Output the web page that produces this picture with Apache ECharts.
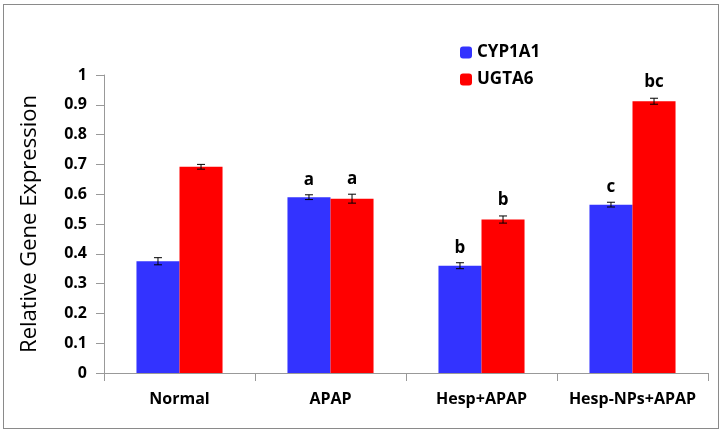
<!DOCTYPE html>
<html><head><meta charset="utf-8">
<script src="https://cdn.jsdelivr.net/npm/echarts@6/dist/echarts.min.js"></script>
<style>html,body{margin:0;padding:0;background:#fff}#frame{position:absolute;left:3px;top:4px;width:716px;height:425px;border:1.5px solid #8a8a8a;box-sizing:border-box}#c{width:724px;height:434px}</style>
</head><body>
<div id="c"></div><div id="frame"></div>
<script>
const categories = ['Normal', 'APAP', 'Hesp+APAP', 'Hesp-NPs+APAP'];
const cyp1a1 = [0.375, 0.59, 0.36, 0.565];
const ugta6 = [0.692, 0.585, 0.515, 0.912];
const cypErr = [0.012, 0.008, 0.010, 0.008];
const ugtErr = [0.008, 0.015, 0.012, 0.010];
const cypLetters = ['', 'a', 'b', 'c'];
const ugtLetters = ['', 'a', 'b', 'bc'];
const yTicks = [0, 0.1, 0.2, 0.3, 0.4, 0.5, 0.6, 0.7, 0.8, 0.9, 1];

const gapRatio = 0.43;
function errSeries(vals, errs, side) {
  return {
    type: 'custom', z: 5,
    data: vals.map((v, i) => [i, v, errs[i]]),
    renderItem: function (params, api) {
      const band = api.size([1, 0])[0];
      const bw = band * (1 - gapRatio) / 2;
      const c = api.coord([api.value(0), api.value(1)]);
      const x = c[0] + side * bw / 2;
      const hi = api.coord([api.value(0), api.value(1) + api.value(2)])[1];
      const lo = api.coord([api.value(0), api.value(1) - api.value(2)])[1];
      const cap = 4;
      const st = { stroke: '#000', lineWidth: 1 };
      return { type: 'group', children: [
        { type: 'line', shape: { x1: x, y1: hi, x2: x, y2: lo }, style: st },
        { type: 'line', shape: { x1: x - cap, y1: hi, x2: x + cap, y2: hi }, style: st },
        { type: 'line', shape: { x1: x - cap, y1: lo, x2: x + cap, y2: lo }, style: st }
      ]};
    }
  };
}
const chart = echarts.init(document.getElementById('c'));
const font = 'Open Sans, Liberation Sans, sans-serif';
chart.setOption({
  animation: false,
  textStyle: { fontFamily: font },
  legend: {
    orient: 'vertical', left: 455, top: 39, itemWidth: 12, itemHeight: 12, itemGap: 10,
    textStyle: { fontFamily: font, fontWeight: 'bold', fontSize: 17, color: '#000' },
    data: ['CYP1A1', 'UGTA6']
  },
  grid: { left: 104, right: 16, top: 75, bottom: 61 },
  xAxis: {
    type: 'category', data: categories,
    axisLine: { lineStyle: { color: '#999' } },
    axisTick: { show: true, length: 8, lineStyle: { color: '#999' } },
    axisLabel: { interval: 0, hideOverlap: false, color: '#000', fontWeight: 'bold', fontSize: 16, margin: 18, fontFamily: font }
  },
  yAxis: {
    type: 'value', min: 0, max: 1, interval: 0.1,
    name: 'Relative Gene Expression', nameLocation: 'middle', nameGap: 63,
    nameTextStyle: { color: '#000', fontWeight: 'normal', fontSize: 22, fontFamily: font },
    splitLine: { show: false },
    axisLine: { show: true, lineStyle: { color: '#999' } },
    axisTick: { show: true, length: 8, lineStyle: { color: '#999' } },
    axisLabel: { color: '#000', fontWeight: 'bold', fontSize: 16, margin: 17, fontFamily: font,
      formatter: v => { const t = yTicks.find(x => Math.abs(x - v) < 1e-9); return t === undefined ? '' : String(t); } }
  },
  series: [
    { name: 'CYP1A1', type: 'bar', data: cyp1a1, barGap: '0%', barCategoryGap: (gapRatio * 100) + '%',
      itemStyle: { color: '#3333FF' },
      label: { show: true, position: 'top', distance: 9, color: '#000', fontWeight: 'bold', fontSize: 17,
        fontFamily: font, formatter: p => cypLetters[p.dataIndex] } },
    { name: 'UGTA6', type: 'bar', data: ugta6, itemStyle: { color: '#FF0000' },
      label: { show: true, position: 'top', distance: 11, color: '#000', fontWeight: 'bold', fontSize: 17,
        fontFamily: font, formatter: p => ugtLetters[p.dataIndex] } },
    errSeries(cyp1a1, cypErr, -1),
    errSeries(ugta6, ugtErr, 1)
  ]
});
</script>
</body></html>
